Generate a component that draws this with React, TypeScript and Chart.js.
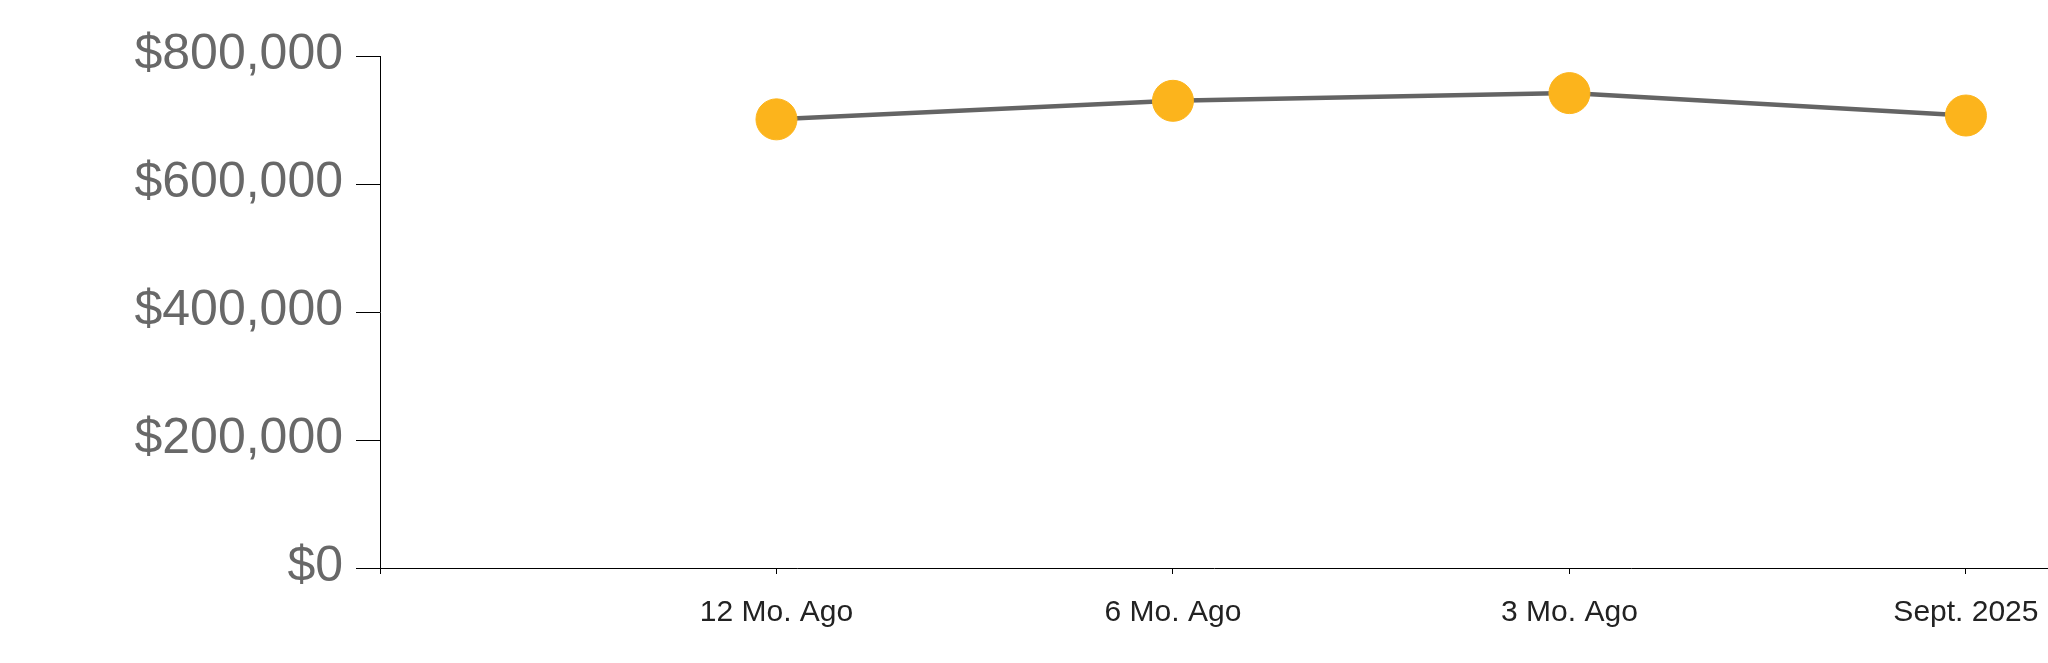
import React, { useEffect, useRef } from "react";
import { Chart, registerables } from "chart.js";

Chart.register(...registerables);

// ---- data ----
const categories: string[] = ["", "12 Mo. Ago", "6 Mo. Ago", "3 Mo. Ago", "Sept. 2025"];
const medianPrice: (number | null)[] = [null, 701000, 730000, 742000, 707000];
const yTickValues: number[] = [0, 200000, 400000, 600000, 800000];

const formatMoney = (v: number) => "$" + Math.round(v).toLocaleString("en-US");

export default function App() {
  const canvasRef = useRef<HTMLCanvasElement | null>(null);

  useEffect(() => {
    const canvas = canvasRef.current;
    if (!canvas) return;
    const points = medianPrice
      .map((v, i) => (v === null ? null : { x: i, y: v }))
      .filter((p) => p !== null) as { x: number; y: number }[];

    const chart = new Chart(canvas, {
      type: "line",
      data: {
        datasets: [
          {
            data: points,
            borderColor: "#646464",
            borderWidth: 4.5,
            backgroundColor: "#FCB41C",
            pointBackgroundColor: "#FCB41C",
            pointBorderColor: "#FCB41C",
            pointBorderWidth: 1,
            pointRadius: 20.5,
            pointHoverRadius: 20.5,
            tension: 0,
            fill: false,
            clip: false as any,
          },
        ],
      },
      options: {
        responsive: false,
        animation: false,
        devicePixelRatio: 1,
        layout: { autoPadding: false, padding: { top: 56, right: 0, bottom: 0, left: 0 } },
        plugins: {
          legend: { display: false },
          tooltip: { enabled: false },
        },
        scales: {
          x: {
            type: "linear",
            min: 0,
            max: categories.length - 1 + 0.207,
            grid: {
              drawOnChartArea: false,
              drawTicks: true,
              tickLength: 6,
              color: "#000000",
              lineWidth: 1,
            },
            border: { display: true, color: "#000000", width: 1 },
            ticks: {
              stepSize: 1,
              includeBounds: false,
              autoSkip: false,
              maxRotation: 0,
              padding: 21,
              color: "#222222",
              font: { family: 'Arial, "Liberation Sans", sans-serif', size: 30 },
              callback: (v: any) => {
                const i = Number(v);
                return Number.isInteger(i) && categories[i] !== undefined ? categories[i] : "";
              },
            },
            afterFit: (scale: any) => {
              scale.height = 95;
              scale.paddingLeft = 0;
              scale.paddingRight = 0;
            },
          },
          y: {
            type: "linear",
            min: 0,
            max: 800000,
            grid: {
              drawOnChartArea: false,
              drawTicks: true,
              tickLength: 24,
              color: "#000000",
              lineWidth: 1,
            },
            border: { display: true, color: "#000000", width: 1 },
            afterBuildTicks: (scale: any) => {
              scale.ticks = yTickValues.map((v) => ({ value: v }));
            },
            ticks: {
              padding: 13,
              labelOffset: -1,
              color: "#686868",
              font: { family: 'Arial, "Liberation Sans", sans-serif', size: 50 },
              callback: (v: any) => formatMoney(Number(v)),
            },
            afterFit: (scale: any) => {
              scale.width = 380;
              scale.paddingTop = 0;
              scale.paddingBottom = 0;
            },
          },
        },
      },
    });
    return () => chart.destroy();
  }, []);

  return (
    <div style={{ position: "fixed", left: 0, top: 0, width: 2048, height: 663, background: "#ffffff" }}>
      <canvas ref={canvasRef} width={2048} height={663} style={{ display: "block", width: 2048, height: 663 }} />
    </div>
  );
}
